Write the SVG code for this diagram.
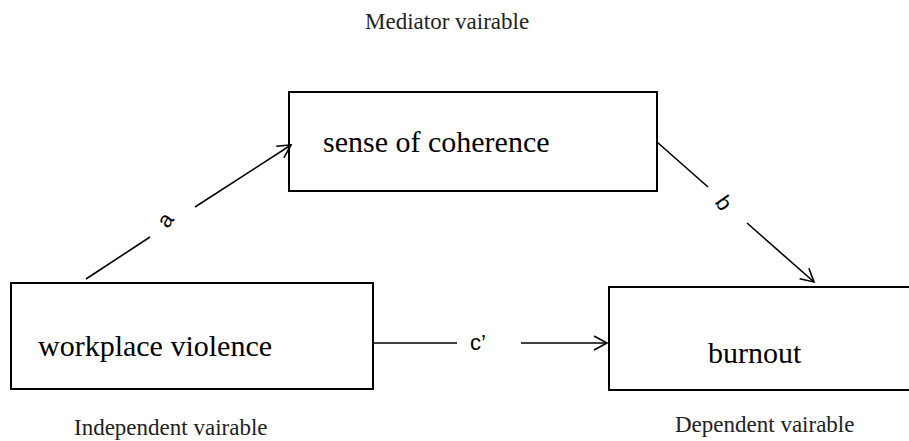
<svg xmlns="http://www.w3.org/2000/svg" width="909" height="441" viewBox="0 0 909 441">
<style>
.box{fill:#fff;stroke:#000;stroke-width:2}
.t{font-family:'Liberation Serif','DejaVu Serif',serif;fill:#000}
.big{font-size:30px}
.cap{font-size:23px;fill:#222}
.lbl{font-family:'Liberation Sans',Arial,sans-serif;font-size:22px;fill:#000}
.ln{stroke:#000;stroke-width:1.6;fill:none}
</style>
<defs>
<marker id="arr" markerUnits="userSpaceOnUse" markerWidth="16" markerHeight="16" viewBox="0 0 16 16" refX="14" refY="8" orient="auto">
<path d="M1,1 L14,8 L1,15" fill="none" stroke="#000" stroke-width="1.6"/>
</marker>
</defs>
<rect width="909" height="441" fill="#fff"/>
<text class="t cap" font-family="Liberation Serif, DejaVu Serif, serif" x="365" y="29">Mediator vairable</text>
<g id="n-soc">
<rect class="box" x="289" y="92" width="368" height="99"/>
<text class="t big" font-family="Liberation Serif, DejaVu Serif, serif" x="323" y="152">sense of coherence</text>
</g>
<g id="n-wv">
<rect class="box" x="11" y="283" width="362" height="106"/>
<text class="t big" font-family="Liberation Serif, DejaVu Serif, serif" x="38" y="356">workplace violence</text>
<text class="t cap" font-family="Liberation Serif, DejaVu Serif, serif" x="74" y="435">Independent vairable</text>
</g>
<g id="n-burnout">
<rect class="box" x="609" y="287" width="310" height="103"/>
<text class="t big" font-family="Liberation Serif, DejaVu Serif, serif" x="708" y="363">burnout</text>
<text class="t cap" font-family="Liberation Serif, DejaVu Serif, serif" x="675" y="432">Dependent vairable</text>
</g>
<g id="connectors">
<line class="ln" x1="86" y1="279" x2="150" y2="237"/>
<line class="ln" x1="195" y1="207" x2="291" y2="145" marker-end="url(#arr)"/>
<text class="lbl" x="165" y="220" text-anchor="middle" dominant-baseline="central" transform="rotate(-55 165 220)">a</text>
<line class="ln" x1="657" y1="142" x2="708" y2="187"/>
<line class="ln" x1="747" y1="223" x2="814" y2="282" marker-end="url(#arr)"/>
<text class="lbl" x="724" y="203" text-anchor="middle" dominant-baseline="central" transform="rotate(55 724 203)">b</text>
<line class="ln" x1="373" y1="343" x2="457" y2="343"/>
<line class="ln" x1="521" y1="343" x2="607" y2="343" marker-end="url(#arr)"/>
<text class="lbl" x="470" y="350">c’</text>
</g>
</svg>
